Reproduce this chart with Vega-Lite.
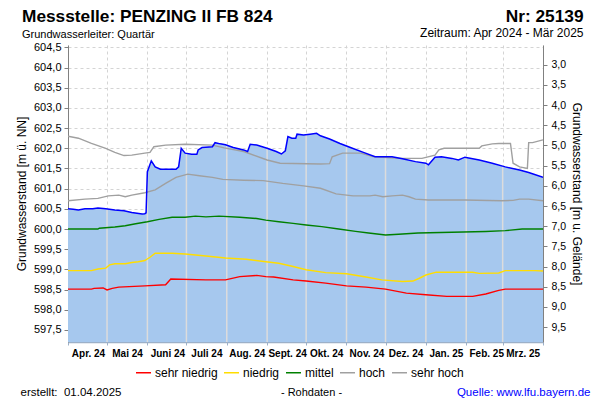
{
  "$schema": "https://vega.github.io/schema/vega-lite/v6.json",
  "width": 475,
  "height": 297,
  "autosize": "none",
  "padding": {"left": 68, "top": 45, "right": 57, "bottom": 58},
  "background": "white",
  "title": {
    "text": "Messstelle: PENZING II FB 824",
    "subtitle": "Grundwasserleiter: Quartär",
    "anchor": "start",
    "frame": "group",
    "orient": "top",
    "offset": 0,
    "dx": -46,
    "dy": 33,
    "font": "Liberation Sans",
    "fontSize": 17.3,
    "fontWeight": "bold",
    "color": "black",
    "subtitleFont": "Liberation Sans",
    "subtitleFontSize": 11,
    "subtitleColor": "black",
    "subtitlePadding": 4
  },
  "datasets": {
    "level": [
      {"date": "2024-04-01", "level": 600.50}, {"date": "2024-04-05", "level": 600.49}, {"date": "2024-04-09", "level": 600.47},
      {"date": "2024-04-14", "level": 600.50}, {"date": "2024-04-20", "level": 600.50}, {"date": "2024-04-24", "level": 600.52},
      {"date": "2024-04-30", "level": 600.50}, {"date": "2024-05-07", "level": 600.47}, {"date": "2024-05-14", "level": 600.45},
      {"date": "2024-05-20", "level": 600.41}, {"date": "2024-05-28", "level": 600.37}, {"date": "2024-05-30", "level": 600.38},
      {"date": "2024-05-31", "level": 600.40}, {"date": "2024-06-01", "level": 601.42}, {"date": "2024-06-04", "level": 601.69},
      {"date": "2024-06-07", "level": 601.54}, {"date": "2024-06-11", "level": 601.48}, {"date": "2024-06-23", "level": 601.48},
      {"date": "2024-06-25", "level": 601.54}, {"date": "2024-06-27", "level": 602.00}, {"date": "2024-06-30", "level": 601.88},
      {"date": "2024-07-05", "level": 601.85}, {"date": "2024-07-09", "level": 601.85}, {"date": "2024-07-10", "level": 601.96},
      {"date": "2024-07-13", "level": 602.02}, {"date": "2024-07-21", "level": 602.04}, {"date": "2024-07-23", "level": 602.14},
      {"date": "2024-07-27", "level": 602.11}, {"date": "2024-07-31", "level": 602.09}, {"date": "2024-08-06", "level": 602.02},
      {"date": "2024-08-14", "level": 601.96}, {"date": "2024-08-17", "level": 601.92}, {"date": "2024-08-19", "level": 602.10},
      {"date": "2024-08-24", "level": 602.08}, {"date": "2024-09-01", "level": 602.00}, {"date": "2024-09-08", "level": 601.92},
      {"date": "2024-09-12", "level": 601.86}, {"date": "2024-09-15", "level": 601.94}, {"date": "2024-09-17", "level": 602.29},
      {"date": "2024-09-20", "level": 602.25}, {"date": "2024-09-23", "level": 602.25}, {"date": "2024-09-24", "level": 602.35},
      {"date": "2024-09-29", "level": 602.33}, {"date": "2024-10-04", "level": 602.35}, {"date": "2024-10-09", "level": 602.37},
      {"date": "2024-10-12", "level": 602.31}, {"date": "2024-10-19", "level": 602.23}, {"date": "2024-10-27", "level": 602.12},
      {"date": "2024-11-04", "level": 602.02}, {"date": "2024-11-14", "level": 601.90}, {"date": "2024-11-23", "level": 601.79},
      {"date": "2024-11-29", "level": 601.79}, {"date": "2024-12-06", "level": 601.79}, {"date": "2024-12-14", "level": 601.74},
      {"date": "2024-12-24", "level": 601.67}, {"date": "2025-01-01", "level": 601.63}, {"date": "2025-01-03", "level": 601.59},
      {"date": "2025-01-08", "level": 601.78}, {"date": "2025-01-13", "level": 601.79}, {"date": "2025-01-21", "level": 601.75},
      {"date": "2025-01-26", "level": 601.71}, {"date": "2025-01-31", "level": 601.78}, {"date": "2025-02-11", "level": 601.71},
      {"date": "2025-02-21", "level": 601.63}, {"date": "2025-03-03", "level": 601.54}, {"date": "2025-03-14", "level": 601.46},
      {"date": "2025-03-21", "level": 601.40}, {"date": "2025-04-01", "level": 601.28}
    ],
    "months": [
      {"date": "2024-05-01", "level": 600.50}, {"date": "2024-06-01", "level": 601.42}, {"date": "2024-07-01", "level": 601.87},
      {"date": "2024-08-01", "level": 602.08}, {"date": "2024-09-01", "level": 602.00}, {"date": "2024-10-01", "level": 602.34},
      {"date": "2024-11-01", "level": 602.05}, {"date": "2024-12-01", "level": 601.79}, {"date": "2025-01-01", "level": 601.63},
      {"date": "2025-02-01", "level": 601.78}, {"date": "2025-03-01", "level": 601.56}
    ],
    "refs": [
      {"date": "2024-04-01", "value": 602.30, "cls": "sehr hoch"}, {"date": "2024-04-09", "value": 602.25, "cls": "sehr hoch"},
      {"date": "2024-04-19", "value": 602.12, "cls": "sehr hoch"}, {"date": "2024-04-30", "value": 602.00, "cls": "sehr hoch"},
      {"date": "2024-05-07", "value": 601.90, "cls": "sehr hoch"}, {"date": "2024-05-14", "value": 601.82, "cls": "sehr hoch"},
      {"date": "2024-05-20", "value": 601.83, "cls": "sehr hoch"}, {"date": "2024-05-30", "value": 601.88, "cls": "sehr hoch"},
      {"date": "2024-06-03", "value": 601.90, "cls": "sehr hoch"}, {"date": "2024-06-06", "value": 602.04, "cls": "sehr hoch"},
      {"date": "2024-06-15", "value": 602.08, "cls": "sehr hoch"}, {"date": "2024-06-30", "value": 602.10, "cls": "sehr hoch"},
      {"date": "2024-07-21", "value": 602.08, "cls": "sehr hoch"}, {"date": "2024-07-30", "value": 602.01, "cls": "sehr hoch"},
      {"date": "2024-08-14", "value": 601.92, "cls": "sehr hoch"}, {"date": "2024-09-01", "value": 601.71, "cls": "sehr hoch"},
      {"date": "2024-09-11", "value": 601.63, "cls": "sehr hoch"}, {"date": "2024-10-12", "value": 601.61, "cls": "sehr hoch"},
      {"date": "2024-10-19", "value": 601.62, "cls": "sehr hoch"}, {"date": "2024-10-21", "value": 601.79, "cls": "sehr hoch"},
      {"date": "2024-10-29", "value": 601.88, "cls": "sehr hoch"}, {"date": "2024-11-12", "value": 601.88, "cls": "sehr hoch"},
      {"date": "2024-11-22", "value": 601.79, "cls": "sehr hoch"}, {"date": "2024-11-29", "value": 601.78, "cls": "sehr hoch"},
      {"date": "2024-12-12", "value": 601.75, "cls": "sehr hoch"}, {"date": "2024-12-29", "value": 601.75, "cls": "sehr hoch"},
      {"date": "2025-01-08", "value": 601.83, "cls": "sehr hoch"}, {"date": "2025-01-11", "value": 601.96, "cls": "sehr hoch"},
      {"date": "2025-01-15", "value": 602.00, "cls": "sehr hoch"}, {"date": "2025-02-11", "value": 602.00, "cls": "sehr hoch"},
      {"date": "2025-02-13", "value": 602.06, "cls": "sehr hoch"}, {"date": "2025-02-21", "value": 602.11, "cls": "sehr hoch"},
      {"date": "2025-02-26", "value": 602.12, "cls": "sehr hoch"}, {"date": "2025-03-07", "value": 602.12, "cls": "sehr hoch"},
      {"date": "2025-03-09", "value": 601.63, "cls": "sehr hoch"}, {"date": "2025-03-14", "value": 601.54, "cls": "sehr hoch"},
      {"date": "2025-03-20", "value": 601.50, "cls": "sehr hoch"}, {"date": "2025-03-21", "value": 602.14, "cls": "sehr hoch"},
      {"date": "2025-03-24", "value": 602.14, "cls": "sehr hoch"}, {"date": "2025-04-01", "value": 602.21, "cls": "sehr hoch"},

      {"date": "2024-04-01", "value": 600.70, "cls": "hoch"}, {"date": "2024-04-14", "value": 600.74, "cls": "hoch"},
      {"date": "2024-04-24", "value": 600.76, "cls": "hoch"}, {"date": "2024-05-02", "value": 600.82, "cls": "hoch"},
      {"date": "2024-05-10", "value": 600.84, "cls": "hoch"}, {"date": "2024-05-15", "value": 600.80, "cls": "hoch"},
      {"date": "2024-05-20", "value": 600.84, "cls": "hoch"}, {"date": "2024-05-30", "value": 600.90, "cls": "hoch"},
      {"date": "2024-06-07", "value": 600.97, "cls": "hoch"}, {"date": "2024-06-15", "value": 601.13, "cls": "hoch"},
      {"date": "2024-06-23", "value": 601.28, "cls": "hoch"}, {"date": "2024-07-02", "value": 601.36, "cls": "hoch"},
      {"date": "2024-07-11", "value": 601.32, "cls": "hoch"}, {"date": "2024-07-21", "value": 601.28, "cls": "hoch"},
      {"date": "2024-07-29", "value": 601.23, "cls": "hoch"}, {"date": "2024-08-14", "value": 601.21, "cls": "hoch"},
      {"date": "2024-08-29", "value": 601.20, "cls": "hoch"}, {"date": "2024-09-13", "value": 601.13, "cls": "hoch"},
      {"date": "2024-09-29", "value": 601.07, "cls": "hoch"}, {"date": "2024-10-12", "value": 601.01, "cls": "hoch"},
      {"date": "2024-10-24", "value": 600.87, "cls": "hoch"}, {"date": "2024-11-06", "value": 600.82, "cls": "hoch"},
      {"date": "2024-11-19", "value": 600.82, "cls": "hoch"}, {"date": "2024-11-23", "value": 600.84, "cls": "hoch"},
      {"date": "2024-11-29", "value": 600.80, "cls": "hoch"}, {"date": "2024-12-06", "value": 600.82, "cls": "hoch"},
      {"date": "2024-12-14", "value": 600.84, "cls": "hoch"}, {"date": "2024-12-19", "value": 600.80, "cls": "hoch"},
      {"date": "2024-12-24", "value": 600.74, "cls": "hoch"}, {"date": "2025-01-03", "value": 600.72, "cls": "hoch"},
      {"date": "2025-01-31", "value": 600.72, "cls": "hoch"}, {"date": "2025-02-28", "value": 600.70, "cls": "hoch"},
      {"date": "2025-03-09", "value": 600.71, "cls": "hoch"}, {"date": "2025-03-14", "value": 600.74, "cls": "hoch"},
      {"date": "2025-03-21", "value": 600.74, "cls": "hoch"}, {"date": "2025-04-01", "value": 600.70, "cls": "hoch"},

      {"date": "2024-04-01", "value": 600.00, "cls": "mittel"}, {"date": "2024-04-24", "value": 600.00, "cls": "mittel"},
      {"date": "2024-04-25", "value": 600.02, "cls": "mittel"}, {"date": "2024-05-07", "value": 600.05, "cls": "mittel"},
      {"date": "2024-05-15", "value": 600.08, "cls": "mittel"}, {"date": "2024-05-23", "value": 600.13, "cls": "mittel"},
      {"date": "2024-06-01", "value": 600.18, "cls": "mittel"}, {"date": "2024-06-10", "value": 600.24, "cls": "mittel"},
      {"date": "2024-06-20", "value": 600.29, "cls": "mittel"}, {"date": "2024-06-30", "value": 600.29, "cls": "mittel"},
      {"date": "2024-07-08", "value": 600.32, "cls": "mittel"}, {"date": "2024-07-16", "value": 600.30, "cls": "mittel"},
      {"date": "2024-07-26", "value": 600.32, "cls": "mittel"}, {"date": "2024-08-11", "value": 600.29, "cls": "mittel"},
      {"date": "2024-08-24", "value": 600.26, "cls": "mittel"}, {"date": "2024-08-31", "value": 600.22, "cls": "mittel"},
      {"date": "2024-09-10", "value": 600.18, "cls": "mittel"}, {"date": "2024-09-21", "value": 600.14, "cls": "mittel"},
      {"date": "2024-10-01", "value": 600.10, "cls": "mittel"}, {"date": "2024-10-13", "value": 600.06, "cls": "mittel"},
      {"date": "2024-10-26", "value": 600.00, "cls": "mittel"}, {"date": "2024-11-08", "value": 599.94, "cls": "mittel"},
      {"date": "2024-11-18", "value": 599.90, "cls": "mittel"}, {"date": "2024-12-01", "value": 599.85, "cls": "mittel"},
      {"date": "2024-12-11", "value": 599.87, "cls": "mittel"}, {"date": "2024-12-26", "value": 599.90, "cls": "mittel"},
      {"date": "2025-01-21", "value": 599.92, "cls": "mittel"}, {"date": "2025-02-16", "value": 599.94, "cls": "mittel"},
      {"date": "2025-03-03", "value": 599.96, "cls": "mittel"}, {"date": "2025-03-16", "value": 600.00, "cls": "mittel"},
      {"date": "2025-04-01", "value": 600.00, "cls": "mittel"},

      {"date": "2024-04-01", "value": 598.97, "cls": "niedrig"}, {"date": "2024-04-19", "value": 598.97, "cls": "niedrig"},
      {"date": "2024-04-24", "value": 599.01, "cls": "niedrig"}, {"date": "2024-04-30", "value": 599.03, "cls": "niedrig"},
      {"date": "2024-05-03", "value": 599.11, "cls": "niedrig"}, {"date": "2024-05-07", "value": 599.14, "cls": "niedrig"},
      {"date": "2024-05-15", "value": 599.14, "cls": "niedrig"}, {"date": "2024-05-20", "value": 599.17, "cls": "niedrig"},
      {"date": "2024-05-25", "value": 599.19, "cls": "niedrig"}, {"date": "2024-05-30", "value": 599.22, "cls": "niedrig"},
      {"date": "2024-06-03", "value": 599.30, "cls": "niedrig"}, {"date": "2024-06-07", "value": 599.40, "cls": "niedrig"},
      {"date": "2024-06-20", "value": 599.40, "cls": "niedrig"}, {"date": "2024-06-30", "value": 599.38, "cls": "niedrig"},
      {"date": "2024-07-16", "value": 599.33, "cls": "niedrig"}, {"date": "2024-07-31", "value": 599.28, "cls": "niedrig"},
      {"date": "2024-08-16", "value": 599.25, "cls": "niedrig"}, {"date": "2024-08-31", "value": 599.19, "cls": "niedrig"},
      {"date": "2024-09-10", "value": 599.15, "cls": "niedrig"}, {"date": "2024-09-21", "value": 599.07, "cls": "niedrig"},
      {"date": "2024-10-01", "value": 598.99, "cls": "niedrig"}, {"date": "2024-10-16", "value": 598.92, "cls": "niedrig"},
      {"date": "2024-11-01", "value": 598.89, "cls": "niedrig"}, {"date": "2024-11-16", "value": 598.81, "cls": "niedrig"},
      {"date": "2024-11-28", "value": 598.74, "cls": "niedrig"}, {"date": "2024-12-14", "value": 598.70, "cls": "niedrig"},
      {"date": "2024-12-22", "value": 598.71, "cls": "niedrig"}, {"date": "2024-12-27", "value": 598.78, "cls": "niedrig"},
      {"date": "2025-01-01", "value": 598.86, "cls": "niedrig"}, {"date": "2025-01-09", "value": 598.93, "cls": "niedrig"},
      {"date": "2025-02-06", "value": 598.93, "cls": "niedrig"}, {"date": "2025-02-11", "value": 598.90, "cls": "niedrig"},
      {"date": "2025-02-26", "value": 598.91, "cls": "niedrig"}, {"date": "2025-03-03", "value": 598.97, "cls": "niedrig"},
      {"date": "2025-03-26", "value": 598.97, "cls": "niedrig"}, {"date": "2025-04-01", "value": 598.96, "cls": "niedrig"},

      {"date": "2024-04-01", "value": 598.51, "cls": "sehr niedrig"}, {"date": "2024-04-19", "value": 598.51, "cls": "sehr niedrig"},
      {"date": "2024-04-21", "value": 598.53, "cls": "sehr niedrig"}, {"date": "2024-04-28", "value": 598.54, "cls": "sehr niedrig"},
      {"date": "2024-05-01", "value": 598.49, "cls": "sehr niedrig"}, {"date": "2024-05-05", "value": 598.53, "cls": "sehr niedrig"},
      {"date": "2024-05-10", "value": 598.56, "cls": "sehr niedrig"}, {"date": "2024-05-30", "value": 598.59, "cls": "sehr niedrig"},
      {"date": "2024-06-15", "value": 598.62, "cls": "sehr niedrig"}, {"date": "2024-06-19", "value": 598.76, "cls": "sehr niedrig"},
      {"date": "2024-07-16", "value": 598.74, "cls": "sehr niedrig"}, {"date": "2024-07-31", "value": 598.74, "cls": "sehr niedrig"},
      {"date": "2024-08-11", "value": 598.82, "cls": "sehr niedrig"}, {"date": "2024-08-24", "value": 598.85, "cls": "sehr niedrig"},
      {"date": "2024-08-31", "value": 598.82, "cls": "sehr niedrig"}, {"date": "2024-09-06", "value": 598.81, "cls": "sehr niedrig"},
      {"date": "2024-09-21", "value": 598.74, "cls": "sehr niedrig"}, {"date": "2024-10-01", "value": 598.71, "cls": "sehr niedrig"},
      {"date": "2024-10-16", "value": 598.66, "cls": "sehr niedrig"}, {"date": "2024-11-01", "value": 598.59, "cls": "sehr niedrig"},
      {"date": "2024-11-16", "value": 598.56, "cls": "sehr niedrig"}, {"date": "2024-12-01", "value": 598.51, "cls": "sehr niedrig"},
      {"date": "2024-12-17", "value": 598.41, "cls": "sehr niedrig"}, {"date": "2025-01-01", "value": 598.37, "cls": "sehr niedrig"},
      {"date": "2025-01-17", "value": 598.33, "cls": "sehr niedrig"}, {"date": "2025-02-06", "value": 598.33, "cls": "sehr niedrig"},
      {"date": "2025-02-16", "value": 598.39, "cls": "sehr niedrig"}, {"date": "2025-02-26", "value": 598.48, "cls": "sehr niedrig"},
      {"date": "2025-03-03", "value": 598.51, "cls": "sehr niedrig"}, {"date": "2025-04-01", "value": 598.51, "cls": "sehr niedrig"}
    ]
  },
  "layer": [
    {
      "data": {"name": "level"},
      "mark": {"type": "area", "color": "#a6c8ee", "clip": true, "interpolate": "linear"},
      "encoding": {
        "x": {
          "field": "date", "type": "temporal",
          "scale": {"domain": [{"year": 2024, "month": 4, "date": 1}, {"year": 2025, "month": 4, "date": 1}], "nice": false},
          "axis": {
            "orient": "bottom",
            "title": null,
            "values": [
              {"year": 2024, "month": 4, "date": 1}, {"year": 2024, "month": 5, "date": 1}, {"year": 2024, "month": 6, "date": 1},
              {"year": 2024, "month": 7, "date": 1}, {"year": 2024, "month": 8, "date": 1}, {"year": 2024, "month": 9, "date": 1},
              {"year": 2024, "month": 10, "date": 1}, {"year": 2024, "month": 11, "date": 1}, {"year": 2024, "month": 12, "date": 1},
              {"year": 2025, "month": 1, "date": 1}, {"year": 2025, "month": 2, "date": 1}, {"year": 2025, "month": 3, "date": 1},
              {"year": 2025, "month": 4, "date": 1}
            ],
            "labelExpr": "datum.value >= datetime(2025, 2, 15) ? '' : ['Jan.','Feb.','Mrz.','Apr.','Mai','Juni','Juli','Aug.','Sept.','Okt.','Nov.','Dez.'][month(datum.value)] + ' ' + timeFormat(datum.value, '%y')",
            "labelOffset": 20,
            "labelAlign": "center",
            "labelFlush": false,
            "labelOverlap": false,
            "labelFontWeight": "bold",
            "labelFontSize": 10,
            "labelColor": "black",
            "labelPadding": 3,
            "tickSize": 3,
            "tickColor": "#9cb0c8",
            "domainColor": "#9cb0c8",
            "domainWidth": 1.5,
            "grid": true,
            "gridDash": [3, 3],
            "gridColor": "#d4d4d4"
          }
        },
        "y": {
          "field": "level", "type": "quantitative",
          "scale": {"domain": [597.2, 604.56], "nice": false, "zero": false},
          "axis": {
            "orient": "left",
            "title": "Grundwasserstand [m ü. NN]",
            "titleFontSize": 12,
            "titleFontWeight": "normal",
            "titleColor": "black",
            "titlePadding": 5,
            "values": [597.5, 598, 598.5, 599, 599.5, 600, 600.5, 601, 601.5, 602, 602.5, 603, 603.5, 604, 604.5],
            "labelExpr": "replace(format(datum.value, '.1f'), '.', ',')",
            "labelFontSize": 11,
            "labelColor": "black",
            "labelPadding": 3,
            "tickSize": 4,
            "tickColor": "#808080",
            "domainColor": "#808080",
            "grid": true,
            "gridDash": [3, 3],
            "gridColor": "#d4d4d4"
          }
        }
      }
    },
    {
      "data": {"name": "months"},
      "mark": {"type": "rule", "color": "#dcdcdc", "strokeWidth": 1.5, "clip": true},
      "encoding": {
        "x": {
          "field": "date", "type": "temporal",
          "scale": {"domain": [{"year": 2024, "month": 4, "date": 1}, {"year": 2025, "month": 4, "date": 1}], "nice": false},
          "axis": {
            "orient": "top",
            "values": [{"year": 2025, "month": 4, "date": 1}],
            "labelExpr": "'Zeitraum: Apr 2024 - Mär 2025'",
            "labelAlign": "right",
            "labelOffset": 40,
            "labelFlush": false,
            "labelOverlap": false,
            "labelFontSize": 12,
            "labelColor": "black",
            "labelPadding": 6,
            "domain": false,
            "ticks": false,
            "grid": false,
            "title": "Nr: 25139",
            "titleFontSize": 17.3,
            "titleFontWeight": "bold",
            "titleColor": "black",
            "titleAlign": "right",
            "titleAnchor": "end",
            "titleBaseline": "alphabetic",
            "titleX": 515,
            "titleY": -24
          }
        },
        "y": {
          "field": "level", "type": "quantitative",
          "scale": {"domain": [597.2, 604.56], "nice": false, "zero": false},
          "axis": {
            "orient": "right",
            "title": "Grundwasserstand [m u. Gelände]",
            "titleFontSize": 12,
            "titleFontWeight": "normal",
            "titleColor": "black",
            "titlePadding": 4,
            "values": [604.07, 603.57, 603.07, 602.57, 602.07, 601.57, 601.07, 600.57, 600.07, 599.57, 599.07, 598.57, 598.07, 597.57],
            "labelExpr": "replace(format(607.07 - datum.value, '.1f'), '.', ',')",
            "labelFontSize": 10.5,
            "labelColor": "black",
            "labelPadding": 4,
            "tickSize": 4,
            "tickColor": "#808080",
            "domainColor": "#808080",
            "grid": false
          }
        },
        "y2": {"datum": 597.2}
      }
    },
    {
      "data": {"name": "refs"},
      "mark": {"type": "line", "strokeWidth": 1.4, "clip": true, "interpolate": "linear"},
      "encoding": {
        "x": {
          "field": "date", "type": "temporal",
          "scale": {"domain": [{"year": 2024, "month": 4, "date": 1}, {"year": 2025, "month": 4, "date": 1}], "nice": false},
          "axis": null
        },
        "y": {
          "field": "value", "type": "quantitative",
          "scale": {"domain": [597.2, 604.56], "nice": false, "zero": false},
          "axis": null
        },
        "color": {
          "field": "cls", "type": "nominal",
          "scale": {
            "domain": ["sehr niedrig", "niedrig", "mittel", "hoch", "sehr hoch"],
            "range": ["#ff0000", "#ffdd00", "#008000", "#a0a0a0", "#a0a0a0"]
          },
          "legend": {
            "orient": "none",
            "legendX": 67,
            "legendY": 319,
            "direction": "horizontal",
            "title": null,
            "symbolType": "stroke",
            "symbolSize": 225,
            "symbolStrokeWidth": 1.5,
            "labelFontSize": 12,
            "labelColor": "black",
            "labelOffset": 3,
            "columnPadding": 3
          }
        }
      }
    },
    {
      "data": {"name": "level"},
      "mark": {"type": "line", "color": "#0000ff", "strokeWidth": 1.5, "clip": true, "interpolate": "linear"},
      "encoding": {
        "x": {
          "field": "date", "type": "temporal",
          "scale": {"domain": [{"year": 2024, "month": 4, "date": 1}, {"year": 2025, "month": 4, "date": 1}], "nice": false},
          "axis": {
            "orient": "bottom",
            "offset": 44,
            "values": [{"year": 2024, "month": 4, "date": 1}, {"year": 2025, "month": 4, "date": 1}],
            "labelExpr": "datum.value < datetime(2024, 5, 1) ? 'erstellt:\u00a0 01.04.2025' : 'Quelle: www.lfu.bayern.de'",
            "labelAlign": {"condition": {"test": "datum.value < datetime(2024, 5, 1)", "value": "left"}, "value": "right"},
            "labelOffset": {"condition": {"test": "datum.value < datetime(2024, 5, 1)", "value": -48}, "value": 47},
            "labelColor": {"condition": {"test": "datum.value < datetime(2024, 5, 1)", "value": "black"}, "value": "#0000ff"},
            "labelFontSize": 11.5,
            "labelPadding": 0,
            "labelFlush": false,
            "labelOverlap": false,
            "domain": false,
            "ticks": false,
            "grid": false,
            "title": "- Rohdaten -",
            "titleFontSize": 11,
            "titleFontWeight": "normal",
            "titleColor": "black",
            "titleX": 243,
            "titleY": 6,
            "titleBaseline": "middle"
          }
        },
        "y": {
          "field": "level", "type": "quantitative",
          "scale": {"domain": [597.2, 604.56], "nice": false, "zero": false},
          "axis": null
        }
      }
    }
  ],
  "resolve": {"axis": {"x": "independent", "y": "independent"}},
  "config": {
    "view": {"stroke": null},
    "font": "Liberation Sans",
    "axis": {"labelFont": "Liberation Sans", "titleFont": "Liberation Sans"},
    "legend": {"labelFont": "Liberation Sans"},
    "locale": {
      "number": {"decimal": ",", "thousands": ".", "grouping": [3], "currency": ["", " €"]}
    }
  }
}
